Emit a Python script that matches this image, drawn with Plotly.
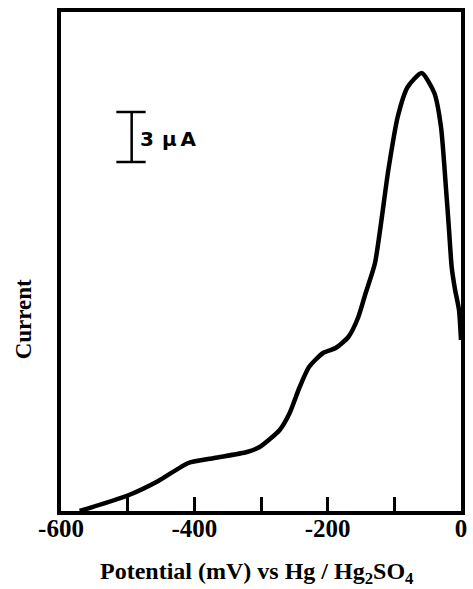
import plotly.graph_objects as go

# Voltammetric sweep: potential (mV vs Hg/Hg2SO4) and current (µA)
potential_mv = [-572, -498, -454, -409, -370, -321, -302, -272, -257, -242,
                -228, -207, -188, -169, -154, -143, -129, -109, -95, -80,
                -59, -40, -30, -22, -18, -14, -9, -3, 0]
current_ua = [0.0, 0.96, 1.8, 2.88, 3.18, 3.54, 3.84, 4.86, 5.88, 7.44,
              8.64, 9.48, 9.78, 10.44, 11.64, 13.08, 14.88, 20.46, 23.64, 25.44,
              26.28, 25.08, 23.04, 19.08, 16.9, 14.64, 13.3, 12.06, 10.26]

tick_vals = [-600, -500, -400, -300, -200, -100, 0]
tick_text = ["-600", "", "-400", "", "-200", "", "0"]

# 3 µA scale bar
bar_x = -494
bar_cap = [-517, -473]
bar_y = [20.94, 23.94]
bar_label = "3\u2009\u2009µ\u2009A"

fig = go.Figure()
fig.add_trace(go.Scatter(
    x=potential_mv, y=current_ua, mode="lines",
    line=dict(color="black", width=4.5, shape="spline", smoothing=0.6),
    hoverinfo="skip", showlegend=False,
))
fig.add_trace(go.Scatter(
    x=[bar_x, bar_x, None, bar_cap[0], bar_cap[1], None, bar_cap[0], bar_cap[1]],
    y=[bar_y[0], bar_y[1], None, bar_y[0], bar_y[0], None, bar_y[1], bar_y[1]],
    mode="lines", line=dict(color="black", width=2.5),
    hoverinfo="skip", showlegend=False,
))

fig.add_annotation(
    x=bar_x + 10, y=(bar_y[0] + bar_y[1]) / 2 - 0.1, xref="x", yref="y",
    text=bar_label, showarrow=False, xanchor="left", yanchor="middle",
    font=dict(family="DejaVu Sans", size=20, color="black", weight="bold"),
)
fig.add_annotation(
    x=-0.094, y=0.385, xref="paper", yref="paper",
    text="Current", showarrow=False, textangle=-90,
    xanchor="center", yanchor="middle",
    font=dict(family="Liberation Serif", size=23, color="black", weight="bold"),
)
fig.add_annotation(
    x=0.49, y=-0.124, xref="paper", yref="paper",
    text="Potential (mV) vs Hg / Hg<sub>2</sub>SO<sub>4</sub>",
    showarrow=False, xanchor="center", yanchor="middle",
    font=dict(family="Liberation Serif", size=24, color="black", weight="bold"),
)

fig.update_xaxes(
    range=[-600, 0], tickvals=tick_vals, ticktext=tick_text,
    ticks="inside", ticklen=14, tickwidth=3, tickcolor="black",
    ticklabelstandoff=-8,
    showline=True, linewidth=4, linecolor="black", mirror=True,
    showgrid=False, zeroline=False,
    tickfont=dict(family="Liberation Serif", size=25, color="black", weight="bold"),
)
fig.update_yaxes(
    range=[0, 29.94], showticklabels=False, ticks="",
    showline=True, linewidth=4, linecolor="black", mirror=True,
    showgrid=False, zeroline=False,
)
fig.update_layout(
    width=473, height=589,
    margin=dict(l=61, r=6, t=12, b=78),
    paper_bgcolor="white", plot_bgcolor="white",
)

fig.write_html("out.html")
